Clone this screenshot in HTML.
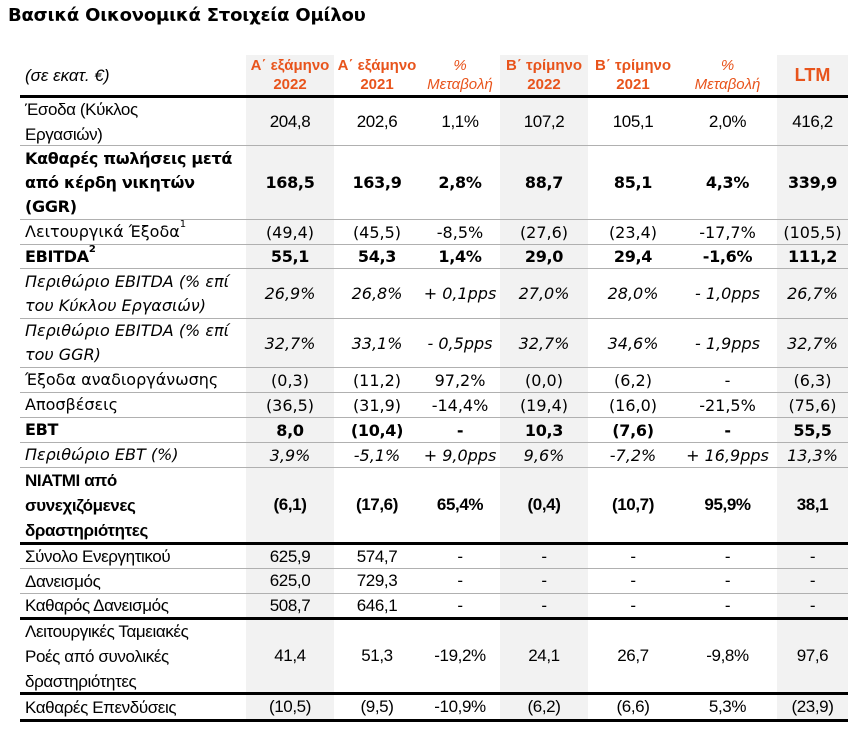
<!DOCTYPE html>
<html><head><meta charset="utf-8">
<style>
body{margin:0;width:862px;height:731px;background:#fff;position:relative;overflow:hidden;font-family:"DejaVu Sans","Liberation Sans",sans-serif;color:#000}
.title{position:absolute;left:8px;top:5px;font-weight:bold;font-size:18px;letter-spacing:-0.2px}
.shade{position:absolute;top:55px;height:665px;background:#f2f2f2}
.row{position:absolute;left:20px;width:828px;display:flex;box-sizing:border-box;border-bottom:1px solid #b0b0b0}
.row.thick{border-bottom:3px solid #000}
.c{display:flex;align-items:center;justify-content:center;text-align:center;font-size:16px;white-space:nowrap}
.l{justify-content:flex-start;text-align:left;padding-left:5px;box-sizing:border-box;line-height:24px}
.w0{width:226px}.w1{width:88px}.w2{width:86px}.w3{width:80px}.w4{width:88px}.w5{width:90px}.w6{width:99px}.w7{width:71px}
.b{font-weight:bold}.i{font-style:italic}
.b .c{letter-spacing:-0.3px}
.n .c{font-family:"Liberation Sans",sans-serif;font-size:17px;letter-spacing:-0.4px}
.n .l{line-height:25px}
.hd .c{font-family:"Liberation Sans",sans-serif;font-weight:bold;color:#e8541c;font-size:15px;line-height:19px}
.hd .p{font-weight:normal;font-style:italic}
.sp{font-size:10px;position:relative;top:-7px}
</style></head><body>
<div class="title">Βασικά Οικονομικά Στοιχεία Ομίλου</div>
<div class="shade" style="left:246px;width:88px"></div>
<div class="shade" style="left:500px;width:88px"></div>
<div class="shade" style="left:777px;width:71px"></div>

<div class="row thick hd" style="top:55px;height:43px">
<div class="c l w0" style="color:#000;font-weight:normal;font-style:italic;font-size:17px">(σε εκατ. €)</div>
<div class="c w1">Α΄ εξάμηνο<br>2022</div><div class="c w2">Α΄ εξάμηνο<br>2021</div><div class="c w3 p">%<br>Μεταβολή</div>
<div class="c w4">Β΄ τρίμηνο<br>2022</div><div class="c w5">Β΄ τρίμηνο<br>2021</div><div class="c w6 p">%<br>Μεταβολή</div>
<div class="c w7" style="font-size:18px">LTM</div></div>

<div class="row n" style="top:98px;height:48px">
<div class="c l w0">Έσοδα (Κύκλος<br>Εργασιών)</div><div class="c w1">204,8</div><div class="c w2">202,6</div><div class="c w3">1,1%</div><div class="c w4">107,2</div><div class="c w5">105,1</div><div class="c w6">2,0%</div><div class="c w7">416,2</div></div>

<div class="row b" style="top:146px;height:74px">
<div class="c l w0">Καθαρές πωλήσεις μετά<br>από κέρδη νικητών<br>(GGR)</div><div class="c w1">168,5</div><div class="c w2">163,9</div><div class="c w3">2,8%</div><div class="c w4">88,7</div><div class="c w5">85,1</div><div class="c w6">4,3%</div><div class="c w7">339,9</div></div>

<div class="row" style="top:220px;height:25px">
<div class="c l w0">Λειτουργικά Έξοδα<span class="sp">1</span></div><div class="c w1">(49,4)</div><div class="c w2">(45,5)</div><div class="c w3">-8,5%</div><div class="c w4">(27,6)</div><div class="c w5">(23,4)</div><div class="c w6">-17,7%</div><div class="c w7">(105,5)</div></div>

<div class="row b" style="top:245px;height:24px">
<div class="c l w0">EBITDA<span class="sp">2</span></div><div class="c w1">55,1</div><div class="c w2">54,3</div><div class="c w3">1,4%</div><div class="c w4">29,0</div><div class="c w5">29,4</div><div class="c w6">-1,6%</div><div class="c w7">111,2</div></div>

<div class="row i" style="top:269px;height:50px">
<div class="c l w0">Περιθώριο EBITDA (% επί<br>του Κύκλου Εργασιών)</div><div class="c w1">26,9%</div><div class="c w2">26,8%</div><div class="c w3">+ 0,1pps</div><div class="c w4">27,0%</div><div class="c w5">28,0%</div><div class="c w6">- 1,0pps</div><div class="c w7">26,7%</div></div>

<div class="row i" style="top:319px;height:49px">
<div class="c l w0">Περιθώριο EBITDA (% επί<br>του GGR)</div><div class="c w1">32,7%</div><div class="c w2">33,1%</div><div class="c w3">- 0,5pps</div><div class="c w4">32,7%</div><div class="c w5">34,6%</div><div class="c w6">- 1,9pps</div><div class="c w7">32,7%</div></div>

<div class="row" style="top:368px;height:25px">
<div class="c l w0">Έξοδα αναδιοργάνωσης</div><div class="c w1">(0,3)</div><div class="c w2">(11,2)</div><div class="c w3">97,2%</div><div class="c w4">(0,0)</div><div class="c w5">(6,2)</div><div class="c w6">-</div><div class="c w7">(6,3)</div></div>

<div class="row" style="top:393px;height:25px">
<div class="c l w0">Αποσβέσεις</div><div class="c w1">(36,5)</div><div class="c w2">(31,9)</div><div class="c w3">-14,4%</div><div class="c w4">(19,4)</div><div class="c w5">(16,0)</div><div class="c w6">-21,5%</div><div class="c w7">(75,6)</div></div>

<div class="row b" style="top:418px;height:25px">
<div class="c l w0">EBT</div><div class="c w1">8,0</div><div class="c w2">(10,4)</div><div class="c w3">-</div><div class="c w4">10,3</div><div class="c w5">(7,6)</div><div class="c w6">-</div><div class="c w7">55,5</div></div>

<div class="row i" style="top:443px;height:25px">
<div class="c l w0">Περιθώριο EBT (%)</div><div class="c w1">3,9%</div><div class="c w2">-5,1%</div><div class="c w3">+ 9,0pps</div><div class="c w4">9,6%</div><div class="c w5">-7,2%</div><div class="c w6">+ 16,9pps</div><div class="c w7">13,3%</div></div>

<div class="row thick n b" style="top:468px;height:77px">
<div class="c l w0" style="font-family:'Liberation Sans',sans-serif;font-size:17px">NIATMI από<br>συνεχιζόμενες<br>δραστηριότητες</div><div class="c w1">(6,1)</div><div class="c w2">(17,6)</div><div class="c w3">65,4%</div><div class="c w4">(0,4)</div><div class="c w5">(10,7)</div><div class="c w6">95,9%</div><div class="c w7">38,1</div></div>

<div class="row n" style="top:545px;height:24px">
<div class="c l w0">Σύνολο Ενεργητικού</div><div class="c w1">625,9</div><div class="c w2">574,7</div><div class="c w3">-</div><div class="c w4">-</div><div class="c w5">-</div><div class="c w6">-</div><div class="c w7">-</div></div>

<div class="row n" style="top:569px;height:25px">
<div class="c l w0">Δανεισμός</div><div class="c w1">625,0</div><div class="c w2">729,3</div><div class="c w3">-</div><div class="c w4">-</div><div class="c w5">-</div><div class="c w6">-</div><div class="c w7">-</div></div>

<div class="row thick n" style="top:594px;height:26px">
<div class="c l w0">Καθαρός Δανεισμός</div><div class="c w1">508,7</div><div class="c w2">646,1</div><div class="c w3">-</div><div class="c w4">-</div><div class="c w5">-</div><div class="c w6">-</div><div class="c w7">-</div></div>

<div class="row thick n" style="top:620px;height:75px">
<div class="c l w0">Λειτουργικές Ταμειακές<br>Ροές από συνολικές<br>δραστηριότητες</div><div class="c w1">41,4</div><div class="c w2">51,3</div><div class="c w3">-19,2%</div><div class="c w4">24,1</div><div class="c w5">26,7</div><div class="c w6">-9,8%</div><div class="c w7">97,6</div></div>

<div class="row thick n" style="top:695px;height:27px">
<div class="c l w0">Καθαρές Επενδύσεις</div><div class="c w1">(10,5)</div><div class="c w2">(9,5)</div><div class="c w3">-10,9%</div><div class="c w4">(6,2)</div><div class="c w5">(6,6)</div><div class="c w6">5,3%</div><div class="c w7">(23,9)</div></div>
</body></html>
